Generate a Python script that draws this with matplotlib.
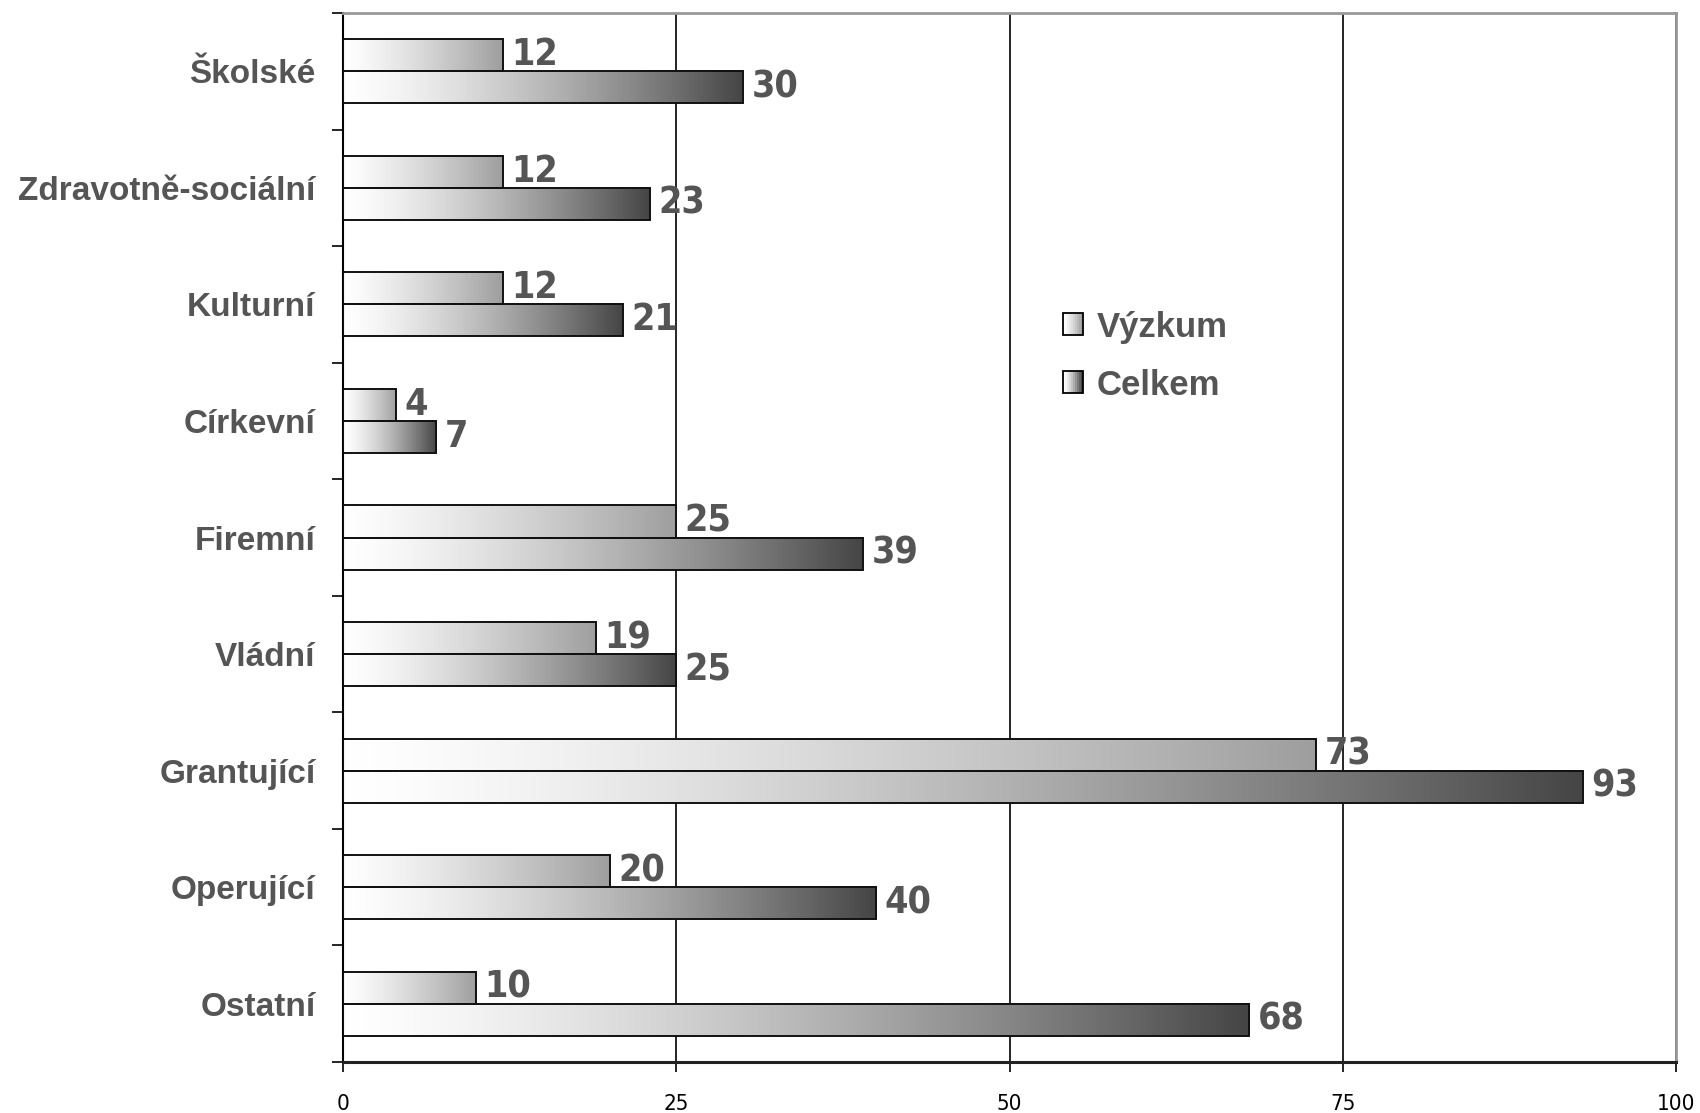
import numpy as np
import matplotlib.pyplot as plt
from matplotlib.patches import Rectangle
from matplotlib.legend_handler import HandlerBase

categories = ['Školské', 'Zdravotně-sociální', 'Kulturní', 'Církevní', 'Firemní',
              'Vládní', 'Grantující', 'Operující', 'Ostatní']
vyzkum = [12, 12, 12, 4, 25, 19, 73, 20, 10]
celkem = [30, 23, 21, 7, 39, 25, 93, 40, 68]
series_names = ['Výzkum', 'Celkem']
x_ticks = [0, 25, 50, 75, 100]

plt.rcParams['font.family'] = ['Liberation Sans', 'DejaVu Sans']


def gradient(end, power):
    # white on the left, gray "end" on the right
    t = np.linspace(0, 1, 256)
    v = 1 - (1 - end) * t ** power
    return np.dstack([v, v, v])


grad_v = gradient(0.62, 1.3)
grad_c = gradient(0.27, 1.4)


class GradHandler(HandlerBase):
    def __init__(self, img):
        super().__init__()
        self.img = img

    def create_artists(self, legend, orig_handle, xdescent, ydescent,
                       width, height, fontsize, trans):
        n = 10
        arts = []
        for i in range(n):
            g = self.img[0, int(i * 255 / (n - 1)), 0]
            r = Rectangle((-xdescent + i * width / n, -ydescent), width / n, height,
                          facecolor=(g, g, g), edgecolor='none', transform=trans)
            arts.append(r)
        arts.append(Rectangle((-xdescent, -ydescent), width, height, facecolor='none',
                              edgecolor='black', lw=1.3, transform=trans))
        return arts


fig = plt.figure(figsize=(17, 11.13), dpi=100)
ax = fig.add_axes([0.2018, 0.0458, 0.7841, 0.9425])

y = np.arange(len(categories))
h = 0.275
bars_v = ax.barh(y - h / 2, vyzkum, height=h, facecolor='none',
                 edgecolor='#111111', lw=1.4, zorder=3)
bars_c = ax.barh(y + h / 2, celkem, height=h, facecolor='none',
                 edgecolor='#111111', lw=1.4, zorder=3)

# gradient fill for every bar
for bars, img in [(bars_v, grad_v), (bars_c, grad_c)]:
    for p in bars:
        x0, y0 = p.get_x(), p.get_y()
        ax.imshow(img, extent=[x0, x0 + p.get_width(), y0 + p.get_height(), y0],
                  aspect='auto', interpolation='bilinear', zorder=2.5)

# value labels
for bars, vals in [(bars_v, vyzkum), (bars_c, celkem)]:
    for p, v in zip(bars, vals):
        ax.annotate(str(v), xy=(v, p.get_y() + p.get_height() / 2),
                    xytext=(6, 0), textcoords='offset points', ha='left', va='center',
                    fontsize=27, fontweight='bold', color='#555555',
                    family='DejaVu Sans', fontstretch='condensed')

ax.set_xlim(0, 100)
ax.set_ylim(len(categories) - 0.5, -0.5)

ax.set_xticks(x_ticks)
ax.set_xticklabels([str(t) for t in x_ticks], fontsize=16, family='DejaVu Sans',
                   fontstretch='condensed')
ax.tick_params(axis='x', length=7, width=1.2, pad=16, colors='black')

ax.set_yticks(y)
ax.set_yticklabels(categories, fontsize=24, fontweight='bold', color='#555555')
ax.set_yticks(np.arange(-0.5, len(categories), 1), minor=True)
ax.tick_params(axis='y', which='major', length=0, pad=20)
ax.tick_params(axis='y', which='minor', length=8, width=1.2)

ax.xaxis.grid(True, color='black', lw=1.2)
ax.set_axisbelow(True)

ax.spines['left'].set_color('black')
ax.spines['left'].set_linewidth(1.5)
ax.spines['bottom'].set_color('#222222')
ax.spines['bottom'].set_linewidth(2.2)
for s in ['top', 'right']:
    ax.spines[s].set_color('#999999')
    ax.spines[s].set_linewidth(2)

h1 = Rectangle((0, 0), 1, 1)
h2 = Rectangle((0, 0), 1, 1)
leg = ax.legend([h1, h2], series_names,
                handler_map={h1: GradHandler(grad_v), h2: GradHandler(grad_c)},
                loc='center left', bbox_to_anchor=(0.517, 0.673), frameon=False,
                handlelength=0.55, handleheight=0.6, handletextpad=0.4,
                labelspacing=0.72, prop={'size': 25, 'weight': 'bold'})
for t in leg.get_texts():
    t.set_color('#555555')

fig.savefig('out.png', dpi=100)
